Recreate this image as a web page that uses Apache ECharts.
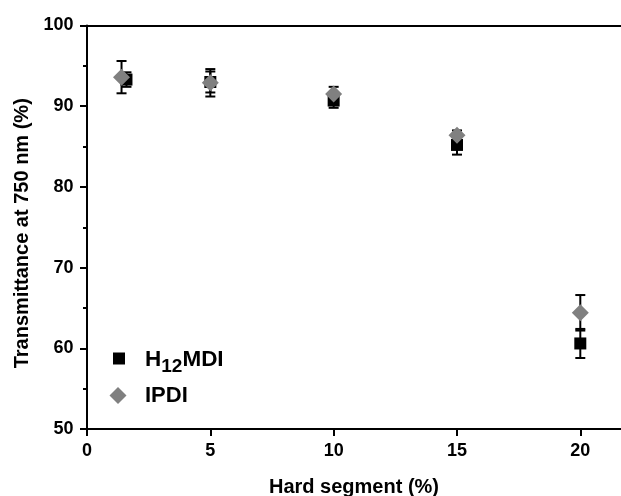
<!DOCTYPE html>
<html>
<head>
<meta charset="utf-8">
<script src="https://cdn.jsdelivr.net/npm/echarts@6/dist/echarts.min.js"></script>
<style>html,body{margin:0;padding:0;background:#fff;}#c{width:621px;height:496px;}</style>
</head>
<body>
<div id="c"></div>
<script>
// Data
var xH = [1.6, 5, 10, 15, 20];
var yH = [93.3, 93.0, 90.7, 85.2, 60.6];
var eH = [0.9, 1.3, 0.9, 1.2, 1.8];
var xI = [1.4, 5, 10, 15, 20];
var yI = [93.6, 92.9, 91.5, 86.4, 64.4];
var eI = [2.0, 1.7, 0.9, 0.6, 2.2];
var xTicks = [0, 5, 10, 15, 20];
var yTicks = [50, 60, 70, 80, 90, 100];
var seriesNames = ['H12MDI', 'IPDI'];
var xTitle = 'Hard segment (%)';
var yTitle = 'Transmittance at 750 nm (%)';

var FONT = 'Arial, "Liberation Sans", sans-serif';

function pts(xs, ys) { return xs.map(function (x, i) { return [x, ys[i]]; }); }
function errData(xs, ys, es) { return xs.map(function (x, i) { return [x, ys[i] - es[i], ys[i] + es[i]]; }); }

function errRender(params, api) {
  var x = api.value(0);
  var lo = api.coord([x, api.value(1)]);
  var hi = api.coord([x, api.value(2)]);
  var cap = 5;
  var st = { stroke: '#000', lineWidth: 2 };
  return {
    type: 'group',
    children: [
      { type: 'line', shape: { x1: lo[0], y1: lo[1], x2: hi[0], y2: hi[1] }, style: st },
      { type: 'line', shape: { x1: lo[0] - cap, y1: lo[1], x2: lo[0] + cap, y2: lo[1] }, style: st },
      { type: 'line', shape: { x1: hi[0] - cap, y1: hi[1], x2: hi[0] + cap, y2: hi[1] }, style: st }
    ]
  };
}

var chart = echarts.init(document.getElementById('c'), null, { renderer: 'canvas' });
var option = {
  backgroundColor: '#fff',
  animation: false,
  textStyle: { fontFamily: FONT },
  grid: { left: 87, right: 0, top: 25.5, bottom: 67, containLabel: false, outerBoundsMode: 'none' },
  legend: [{
    left: 113, top: 348, orient: 'vertical', padding: 0,
    itemWidth: 12, itemHeight: 12,
    data: [{ name: seriesNames[0], icon: 'rect', itemStyle: { color: '#000' } }],
    formatter: function () { return '{a|H}{s|12}{a|MDI}'; },
    textStyle: {
      fontFamily: FONT, fontWeight: 'bold', fontSize: 22.5, color: '#000',
      padding: [7, 0, 0, 15],
      rich: {
        a: { fontFamily: FONT, fontWeight: 'bold', fontSize: 22.5, color: '#000', lineHeight: 23, verticalAlign: 'top' },
        s: { fontFamily: FONT, fontWeight: 'bold', fontSize: 19, color: '#000', lineHeight: 28, verticalAlign: 'bottom' }
      }
    }
  }, {
    left: 109.5, top: 384.5, orient: 'vertical', padding: 0,
    itemWidth: 17, itemHeight: 17,
    data: [{ name: seriesNames[1], icon: 'diamond', itemStyle: { color: '#808080' } }],
    textStyle: { fontFamily: FONT, fontWeight: 'bold', fontSize: 22, color: '#000', padding: [2, 0, 0, 13.5] }
  }],
  xAxis: [{
    type: 'value', min: 0, max: 21.65, interval: 5, position: 'bottom',
    name: xTitle, nameLocation: 'middle', nameGap: 48,
    nameTextStyle: { fontFamily: FONT, fontWeight: 'bold', fontSize: 20, color: '#000' },
    axisLine: { show: true, onZero: false, lineStyle: { color: '#000', width: 2 } },
    axisTick: { show: true, inside: false, length: 7, lineStyle: { color: '#000', width: 2 } },
    minorTick: { show: false },
    axisLabel: { show: true, margin: 13.5, fontFamily: FONT, fontWeight: 'bold', fontSize: 18, color: '#000', showMaxLabel: false,
      formatter: function (v) { return xTicks.indexOf(v) >= 0 ? String(v) : ''; } },
    splitLine: { show: false }
  }, {
    type: 'value', min: 0, max: 21.65, position: 'top',
    axisLine: { show: true, onZero: false, lineStyle: { color: '#000', width: 2 } },
    axisTick: { show: false }, axisLabel: { show: false }, splitLine: { show: false }
  }],
  yAxis: [{
    type: 'value', min: 50, max: 100, interval: 10,
    name: yTitle, nameLocation: 'middle', nameGap: 53, nameRotate: 90,
    nameTextStyle: { fontFamily: FONT, fontWeight: 'bold', fontSize: 20, color: '#000', padding: [0, 12, 0, 0] },
    axisLine: { show: true, onZero: false, lineStyle: { color: '#000', width: 2 } },
    axisTick: { show: true, inside: false, length: 7, lineStyle: { color: '#000', width: 2 } },
    minorTick: { show: true, splitNumber: 2, length: 4, lineStyle: { color: '#000', width: 2 } },
    axisLabel: { show: true, margin: 13.5, fontFamily: FONT, fontWeight: 'bold', fontSize: 18, color: '#000',
      formatter: function (v) { return yTicks.indexOf(v) >= 0 ? String(v) : ''; } },
    splitLine: { show: false }
  }],
  series: [
    { type: 'custom', name: 'errH', renderItem: errRender, data: errData(xH, yH, eH), z: 1, silent: true },
    { type: 'custom', name: 'errI', renderItem: errRender, data: errData(xI, yI, eI), z: 1, silent: true },
    { type: 'scatter', name: seriesNames[0], data: pts(xH, yH), symbol: 'rect', symbolSize: 12, itemStyle: { color: '#000', opacity: 1 }, z: 3 },
    { type: 'scatter', name: seriesNames[1], data: pts(xI, yI), symbol: 'diamond', symbolSize: 17, itemStyle: { color: '#808080', opacity: 1 }, z: 4 }
  ]
};
chart.setOption(option);
</script>
</body>
</html>
